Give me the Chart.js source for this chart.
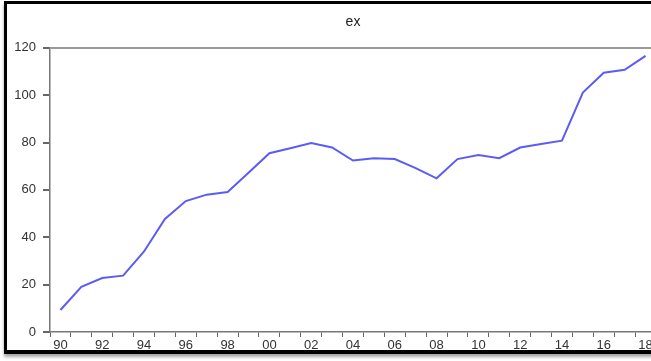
<!DOCTYPE html>
<html>
<head>
<meta charset="utf-8">
<script src="https://cdn.jsdelivr.net/npm/chart.js@4"></script>
<style>
  html, body { margin: 0; padding: 0; background: #fff; }
  #wrap { position: relative; width: 651px; height: 361px; overflow: hidden; }
  #wrap canvas { position: absolute; left: 0; top: 0; }
  #frame {
    position: absolute; left: 4px; top: 1px; width: 700px; height: 346px;
    border-top: 3px solid #000; border-left: 3px solid #000; border-bottom: 4px solid #000;
    box-shadow: 0 3px 3px rgba(0,0,0,0.35);
    pointer-events: none;
  }
</style>
</head>
<body>
<div id="wrap">
  <canvas id="exChart" width="680" height="361" style="width:680px;height:361px"></canvas>
  <div id="frame"></div>
</div>
<script>
// data
const years = [1990, 1991, 1992, 1993, 1994, 1995, 1996, 1997, 1998, 1999,
               2000, 2001, 2002, 2003, 2004, 2005, 2006, 2007, 2008, 2009,
               2010, 2011, 2012, 2013, 2014, 2015, 2016, 2017, 2018];
const exValues = [9.3, 19.1, 22.8, 23.8, 34.0, 47.7, 55.3, 58.0, 59.1, 67.2,
                  75.5, 77.6, 79.8, 77.9, 72.4, 73.4, 73.0, 69.2, 64.9, 73.0,
                  74.7, 73.4, 77.9, 79.4, 80.8, 101.1, 109.5, 110.7, 116.6];
const yTicks = [0, 20, 40, 60, 80, 100, 120];

// ########################
// ###     EX CHART     ###
// ########################
var exChart;
function generateExChart(){

  const font = { family: 'Liberation Sans, Arial, sans-serif', size: 13 };

  // Setup
    const data = {
      labels: years,
      datasets: [{
        label: 'ex',
        data: exValues,
        borderColor: 'rgb(92, 92, 245)',
        borderWidth: 2,
        pointRadius: 0,
        tension: 0,
        fill: false,
      }]
    };
  // end Setup

  // Config
    const config = {
      type: 'line',
      data: data,
      options: {
        responsive: false,
        animation: false,
        layout: { padding: { left: 0, right: 24, top: 0, bottom: 0 } },
        plugins: {
          legend: { display: false },
          tooltip: { enabled: false },
          title: {
            display: true,
            text: 'ex',
            fullSize: false, // center over the plot, not the canvas
            color: '#222',
            font: { family: font.family, size: 14, weight: 'normal' },
            padding: { top: 14, bottom: 17 }
          }
        },
        scales: {
          x: {
            type: 'category',
            offset: true,
            border: { display: true, color: '#777', width: 1.5 },
            grid: {
              offset: true,
              drawOnChartArea: false,
              tickLength: 5,
              tickColor: '#666',
            },
            ticks: {
              autoSkip: false,
              maxRotation: 0,
              padding: 1,
              color: '#333',
              font: font,
              callback: function (val, i) {
                const yr = years[i];
                return yr % 2 === 0 ? String(yr).slice(2) : '';
              }
            },
            afterFit: function (scale) { scale.height = 29; }
          },
          y: {
            min: 0,
            max: 120,
            border: { display: true, color: '#777', width: 1.5 },
            grid: {
              tickLength: 7,
              tickColor: '#666',
              lineWidth: 2,
              color: (ctx) => ctx.tick && ctx.tick.value === 120 ? '#999' : 'rgba(0,0,0,0)',
            },
            afterBuildTicks: function (scale) {
              scale.ticks = yTicks.map(v => ({ value: v }));
            },
            ticks: {
              padding: 7,
              color: '#333',
              font: font,
            },
            afterFit: function (scale) { scale.width = 50; }
          }
        }
      }
    };
  // end Config

  // Render
    exChart = new Chart(
      document.getElementById('exChart'),
      config
    );
}

generateExChart();
</script>
</body>
</html>
